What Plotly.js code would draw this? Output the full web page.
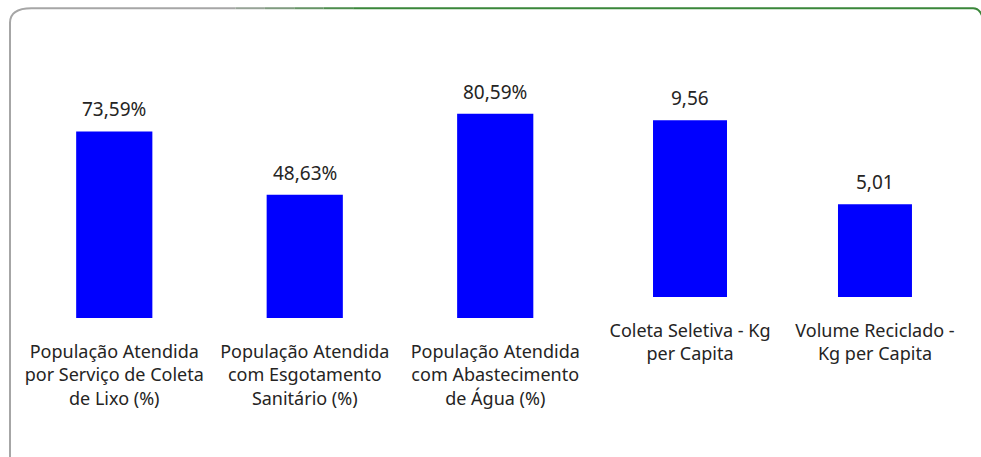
<!DOCTYPE html>
<html>
<head>
<meta charset="utf-8">
<script src="https://cdn.plot.ly/plotly-3.0.1.min.js"></script>
<style>
  body { margin: 0; background: #fff; }
  #plot { width: 981px; height: 457px; }
</style>
</head>
<body>
<div id="plot"></div>
<script>
// Left chart: population served (%)
let pctLabels = [
    "População Atendida<br>por Serviço de Coleta<br>de Lixo (%)",
    "População Atendida<br>com Esgotamento<br>Sanitário (%)",
    "População Atendida<br>com Abastecimento<br>de Água (%)"
];
let pctValues = [73.59, 48.63, 80.59];

// Right chart: kg per capita
let kgLabels = [
    "Coleta Seletiva - Kg<br>per Capita",
    "Volume Reciclado -<br>Kg per Capita"
];
let kgValues = [9.56, 5.01];

let fontFamily = "'Noto Sans', 'Open Sans', sans-serif";
let barColor = "#0000ff";

function fmt(v, suffix) {
    return v.toFixed(2).replace(".", ",") + suffix;
}

// Trace1 for the percentages
let trace1 = {
    x: pctLabels,
    y: pctValues,
    type: "bar",
    marker: { color: barColor },
    xaxis: "x",
    yaxis: "y",
    hoverinfo: "skip"
};

// Trace2 for the kg per capita
let trace2 = {
    x: kgLabels,
    y: kgValues,
    type: "bar",
    marker: { color: barColor },
    xaxis: "x2",
    yaxis: "y2",
    hoverinfo: "skip"
};

// value labels above the bars
let annotations = [];
for (let i = 0; i < pctValues.length; i++) {
    annotations.push({
        x: pctLabels[i], y: pctValues[i], xref: "x", yref: "y",
        text: fmt(pctValues[i], "%"), showarrow: false,
        yanchor: "bottom", yshift: 7,
        font: { family: fontFamily, size: 19, color: "#252423" }
    });
}
for (let i = 0; i < kgValues.length; i++) {
    annotations.push({
        x: kgLabels[i], y: kgValues[i], xref: "x2", yref: "y2",
        text: fmt(kgValues[i], ""), showarrow: false,
        yanchor: "bottom", yshift: 7,
        font: { family: fontFamily, size: 19, color: "#252423" }
    });
}

// rounded card border, gray on the left fading to green
let shapes = [
    { type: "path", xref: "paper", yref: "paper",
      path: "M 0.0102,-0.01 L 0.0102,0.95 Q 0.0102,0.982 0.032,0.982 L 0.24,0.982",
      line: { color: "#a6a6a6", width: 2 } },
    { type: "line", xref: "paper", yref: "paper", x0: 0.24, x1: 0.27, y0: 0.982, y1: 0.982,
      line: { color: "#97a397", width: 2 } },
    { type: "line", xref: "paper", yref: "paper", x0: 0.27, x1: 0.30, y0: 0.982, y1: 0.982,
      line: { color: "#7f9b7f", width: 2 } },
    { type: "line", xref: "paper", yref: "paper", x0: 0.30, x1: 0.33, y0: 0.982, y1: 0.982,
      line: { color: "#659465", width: 2 } },
    { type: "line", xref: "paper", yref: "paper", x0: 0.33, x1: 0.36, y0: 0.982, y1: 0.982,
      line: { color: "#4d8d4d", width: 2 } },
    { type: "path", xref: "paper", yref: "paper",
      path: "M 0.36,0.982 L 0.992,0.982 Q 0.999,0.982 1.002,0.96",
      line: { color: "#3a873a", width: 2 } }
];

let axisFont = { family: fontFamily, size: 18, color: "#252423" };

let layout = {
    width: 981,
    height: 457,
    margin: { l: 0, r: 0, t: 0, b: 0 },
    paper_bgcolor: "#fff",
    plot_bgcolor: "#fff",
    showlegend: false,
    bargap: 0.6,
    xaxis: {
        domain: [0.0194, 0.6019],
        showgrid: false, zeroline: false, showline: false, ticks: "",
        tickfont: axisFont, ticklabelstandoff: 21, fixedrange: true
    },
    yaxis: {
        domain: [0.3042, 0.8589], range: [0, 100], visible: false, fixedrange: true
    },
    xaxis2: {
        domain: [0.6091, 0.9862], anchor: "y2",
        showgrid: false, zeroline: false, showline: false, ticks: "",
        tickfont: axisFont, ticklabelstandoff: 21, fixedrange: true
    },
    yaxis2: {
        domain: [0.3501, 0.8359], range: [0, 12], visible: false, anchor: "x2", fixedrange: true
    },
    annotations: annotations,
    shapes: shapes
};

Plotly.newPlot("plot", [trace1, trace2], layout, { displayModeBar: false, staticPlot: true });
</script>
</body>
</html>
